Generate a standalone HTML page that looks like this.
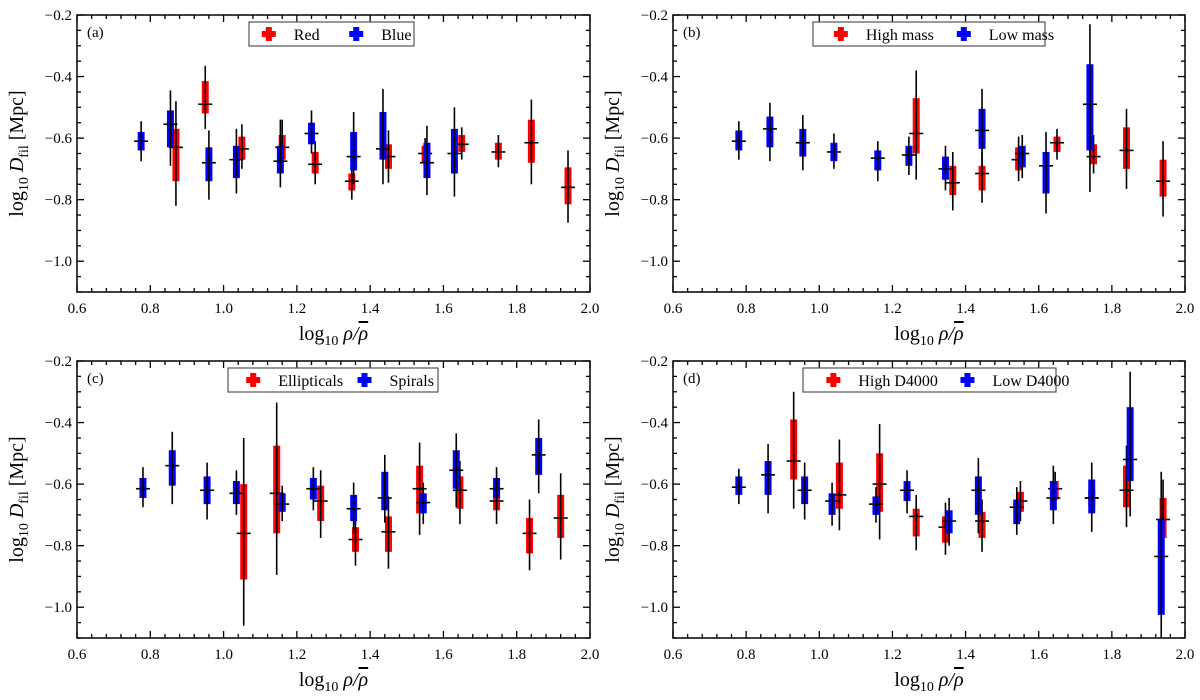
<!DOCTYPE html>
<html><head><meta charset="utf-8"><style>
body{margin:0;background:#fff;}
svg{display:block;font-family:"Liberation Serif",serif;}
</style></head><body>
<svg id="chart" width="1200" height="700" viewBox="0 0 1200 700"></svg>
<script>
// Data arrays: [x, center, boxLow, boxHigh, errLow, errHigh]
const aRed=[[0.87,-0.63,-0.57,-0.74,-0.48,-0.82],[0.95,-0.49,-0.415,-0.52,-0.365,-0.57],[1.05,-0.635,-0.595,-0.67,-0.555,-0.70],[1.16,-0.63,-0.59,-0.67,-0.54,-0.70],[1.25,-0.685,-0.645,-0.715,-0.61,-0.75],[1.35,-0.74,-0.715,-0.77,-0.685,-0.80],[1.45,-0.66,-0.62,-0.70,-0.575,-0.745],[1.55,-0.65,-0.625,-0.68,-0.60,-0.70],[1.65,-0.62,-0.59,-0.645,-0.565,-0.67],[1.75,-0.645,-0.615,-0.67,-0.59,-0.695],[1.84,-0.615,-0.54,-0.68,-0.475,-0.75],[1.94,-0.76,-0.695,-0.815,-0.64,-0.875]];
const aBlue=[[0.775,-0.61,-0.58,-0.64,-0.545,-0.675],[0.855,-0.555,-0.51,-0.63,-0.445,-0.69],[0.96,-0.68,-0.63,-0.74,-0.575,-0.80],[1.035,-0.67,-0.625,-0.73,-0.57,-0.78],[1.155,-0.675,-0.625,-0.715,-0.54,-0.76],[1.24,-0.585,-0.55,-0.62,-0.51,-0.65],[1.355,-0.66,-0.58,-0.705,-0.515,-0.75],[1.435,-0.635,-0.515,-0.67,-0.44,-0.75],[1.555,-0.68,-0.615,-0.73,-0.56,-0.785],[1.63,-0.65,-0.57,-0.715,-0.50,-0.79]];
const bRed=[[1.265,-0.585,-0.47,-0.65,-0.38,-0.735],[1.365,-0.745,-0.69,-0.785,-0.645,-0.835],[1.445,-0.715,-0.69,-0.77,-0.645,-0.81],[1.545,-0.67,-0.63,-0.705,-0.595,-0.74],[1.65,-0.615,-0.595,-0.645,-0.57,-0.67],[1.75,-0.66,-0.62,-0.685,-0.59,-0.715],[1.84,-0.64,-0.565,-0.70,-0.505,-0.765],[1.94,-0.74,-0.67,-0.79,-0.61,-0.855]];
const bBlue=[[0.78,-0.61,-0.575,-0.64,-0.545,-0.67],[0.865,-0.57,-0.53,-0.63,-0.485,-0.675],[0.955,-0.615,-0.57,-0.66,-0.525,-0.705],[1.04,-0.645,-0.615,-0.675,-0.585,-0.70],[1.16,-0.665,-0.64,-0.705,-0.61,-0.74],[1.245,-0.655,-0.625,-0.69,-0.595,-0.72],[1.345,-0.70,-0.66,-0.735,-0.625,-0.77],[1.445,-0.575,-0.505,-0.635,-0.44,-0.71],[1.555,-0.65,-0.625,-0.695,-0.59,-0.73],[1.62,-0.69,-0.645,-0.78,-0.58,-0.845],[1.74,-0.49,-0.36,-0.64,-0.23,-0.775]];
const cRed=[[1.055,-0.76,-0.60,-0.91,-0.45,-1.06],[1.145,-0.63,-0.475,-0.76,-0.335,-0.895],[1.265,-0.655,-0.605,-0.72,-0.555,-0.775],[1.36,-0.78,-0.74,-0.82,-0.695,-0.865],[1.45,-0.755,-0.705,-0.82,-0.64,-0.875],[1.535,-0.615,-0.54,-0.695,-0.465,-0.765],[1.645,-0.62,-0.575,-0.68,-0.525,-0.73],[1.745,-0.655,-0.61,-0.685,-0.58,-0.73],[1.835,-0.76,-0.71,-0.825,-0.65,-0.88],[1.92,-0.71,-0.635,-0.775,-0.565,-0.845]];
const cBlue=[[0.78,-0.615,-0.58,-0.645,-0.545,-0.675],[0.86,-0.54,-0.49,-0.605,-0.43,-0.665],[0.955,-0.62,-0.575,-0.665,-0.53,-0.715],[1.035,-0.63,-0.59,-0.665,-0.555,-0.70],[1.16,-0.665,-0.63,-0.69,-0.605,-0.72],[1.245,-0.615,-0.58,-0.65,-0.545,-0.685],[1.355,-0.68,-0.635,-0.72,-0.595,-0.76],[1.44,-0.645,-0.56,-0.685,-0.505,-0.725],[1.545,-0.66,-0.63,-0.695,-0.595,-0.73],[1.635,-0.555,-0.49,-0.615,-0.435,-0.675],[1.745,-0.615,-0.58,-0.645,-0.545,-0.675],[1.86,-0.505,-0.45,-0.57,-0.39,-0.63]];
const dRed=[[0.93,-0.525,-0.39,-0.585,-0.30,-0.68],[1.055,-0.635,-0.53,-0.68,-0.455,-0.75],[1.165,-0.60,-0.50,-0.69,-0.405,-0.78],[1.265,-0.705,-0.68,-0.77,-0.635,-0.815],[1.345,-0.74,-0.705,-0.79,-0.66,-0.83],[1.445,-0.72,-0.69,-0.775,-0.65,-0.82],[1.55,-0.655,-0.625,-0.69,-0.59,-0.72],[1.645,-0.615,-0.59,-0.65,-0.56,-0.685],[1.745,-0.645,-0.62,-0.67,-0.595,-0.695],[1.84,-0.62,-0.54,-0.675,-0.475,-0.74],[1.94,-0.715,-0.645,-0.775,-0.585,-0.82]];
const dBlue=[[0.78,-0.61,-0.575,-0.635,-0.55,-0.665],[0.86,-0.57,-0.525,-0.635,-0.47,-0.695],[0.96,-0.62,-0.575,-0.665,-0.53,-0.715],[1.035,-0.655,-0.63,-0.70,-0.595,-0.735],[1.155,-0.665,-0.64,-0.70,-0.61,-0.725],[1.24,-0.62,-0.59,-0.655,-0.555,-0.695],[1.355,-0.72,-0.685,-0.76,-0.645,-0.80],[1.435,-0.62,-0.575,-0.70,-0.515,-0.76],[1.54,-0.675,-0.65,-0.73,-0.61,-0.765],[1.64,-0.645,-0.59,-0.685,-0.54,-0.73],[1.745,-0.645,-0.585,-0.695,-0.53,-0.755],[1.85,-0.52,-0.35,-0.59,-0.235,-0.705],[1.935,-0.835,-0.715,-1.025,-0.56,-1.1]];
const xTicks=[0.6,0.8,1.0,1.2,1.4,1.6,1.8,2.0];
const xTickLabels=["0.6","0.8","1.0","1.2","1.4","1.6","1.8","2.0"];
const yTicks=[-0.2,-0.4,-0.6,-0.8,-1.0];
const yTickLabels=["\u22120.2","\u22120.4","\u22120.6","\u22120.8","\u22121.0"];

const panels=[
 {id:'a',L:77,R:590,T:15,B:292,red:aRed,blue:aBlue,names:['Red','Blue'],lg:[249,414]},
 {id:'b',L:673,R:1185,T:15,B:292,red:bRed,blue:bBlue,names:['High mass','Low mass'],lg:[813,1045]},
 {id:'c',L:77,R:590,T:361,B:638,red:cRed,blue:cBlue,names:['Ellipticals','Spirals'],lg:[228,438]},
 {id:'d',L:673,R:1185,T:361,B:638,red:dRed,blue:dBlue,names:['High D4000','Low D4000'],lg:[803,1056]}
];
const svg=document.getElementById('chart');
const NS='http://www.w3.org/2000/svg';
function mk(tag,attrs,parent){const e=document.createElementNS(NS,tag);for(const k in attrs)e.setAttribute(k,attrs[k]);(parent||svg).appendChild(e);return e;}
panels.forEach(p=>{
 const g=mk('g',{});
 
 
 const xs=v=>p.L+(v-0.6)/1.4*(p.R-p.L);
 const ys=v=>p.T+(-0.2-v)/0.9*(p.B-p.T);
 for(let i=0;i<=35;i++){const v=0.6+i*0.04;const x=xs(v);const major=i%5===0;const l=major?7:4;
  const t1=mk('line',{x1:x,x2:x,y1:p.B,y2:p.B-l,stroke:'#000','stroke-width':1.3},g);
  
  const t2=mk('line',{x1:x,x2:x,y1:p.T,y2:p.T+l,stroke:'#000','stroke-width':1.3},g);
  }
 for(let i=0;i<=18;i++){const v=-0.2-i*0.05;const y=ys(v);const major=i%4===0;const l=major?7:4;
  const t1=mk('line',{x1:p.L,x2:p.L+l,y1:y,y2:y,stroke:'#000','stroke-width':1.3},g);
  
  const t2=mk('line',{x1:p.R,x2:p.R-l,y1:y,y2:y,stroke:'#000','stroke-width':1.3},g);
  }
 xTicks.forEach((v,i)=>{const t=mk('text',{x:xs(v),y:p.B+21,'text-anchor':'middle','font-size':15},g);t.textContent=xTickLabels[i];
  });
 yTicks.forEach((v,i)=>{const t=mk('text',{x:p.L-5,y:ys(v)+5,'text-anchor':'end','font-size':15},g);t.textContent=yTickLabels[i];
  });
 const fr=mk('rect',{x:p.L,y:p.T,width:p.R-p.L,height:p.B-p.T,fill:'none',stroke:'#000','stroke-width':1.5},g);
 
 const pl=mk('text',{x:p.L+10,y:p.T+22,'font-size':15},g);pl.textContent='('+p.id+')';
 
 const xt=mk('text',{x:(p.L+p.R)/2,y:p.B+48,'text-anchor':'middle','font-size':20},g);
 xt.innerHTML='log<tspan font-size="14" dy="5">10</tspan><tspan dy="-5" font-style="italic"> \u03C1/</tspan><tspan font-style="italic" text-decoration="overline">\u03C1</tspan>';
 
 const yt=mk('text',{transform:`translate(${p.L-54},${(p.T+p.B)/2}) rotate(-90)`,'text-anchor':'middle','font-size':20},g);
 yt.innerHTML='log<tspan font-size="14" dy="5">10</tspan><tspan dy="-5" font-style="italic"> D</tspan><tspan font-size="14" dy="5">fil</tspan><tspan dy="-5"> [Mpc]</tspan>';
 
 [[p.red,'#ff0000','red'],[p.blue,'#0000ff','blue']].forEach(([arr,col,nm])=>{
  arr.forEach(d=>{const x=xs(d[0]);
   const bx=mk('rect',{x:x-3.5,y:ys(d[2]),width:7,height:ys(d[3])-ys(d[2]),fill:col},g);
   
   const el=mk('line',{x1:x,x2:x,y1:ys(d[4]),y2:ys(Math.max(d[5],-1.1)),stroke:'#000','stroke-width':1.6},g);
   
   const hl=mk('line',{x1:x-7,x2:x+7,y1:ys(d[1]),y2:ys(d[1]),stroke:'#000','stroke-width':1.6},g);
   
  });
 });
 const lx0=p.lg[0],lx1=p.lg[1],ly=p.T+7;
 const lg=mk('g',{},g);
 
 mk('rect',{x:lx0,y:ly,width:lx1-lx0,height:24,fill:'#fff',stroke:'#555','stroke-width':1.2},lg);
 const w=lx1-lx0;
 [[p.names[0],'#ff0000',lx0+0.12*w],[p.names[1],'#0000ff',lx0+0.65*w]].forEach(([n,c,cx],i)=>{
  const e=mk('g',{},lg);
  
  mk('rect',{x:cx-7,y:ly+9,width:14,height:6,fill:c},e);
  mk('rect',{x:cx-3,y:ly+5,width:6,height:14,fill:c},e);
  const t=mk('text',{x:cx+25,y:ly+18,'font-size':16},e);t.textContent=n;
 });
});
</script>
</body></html>
